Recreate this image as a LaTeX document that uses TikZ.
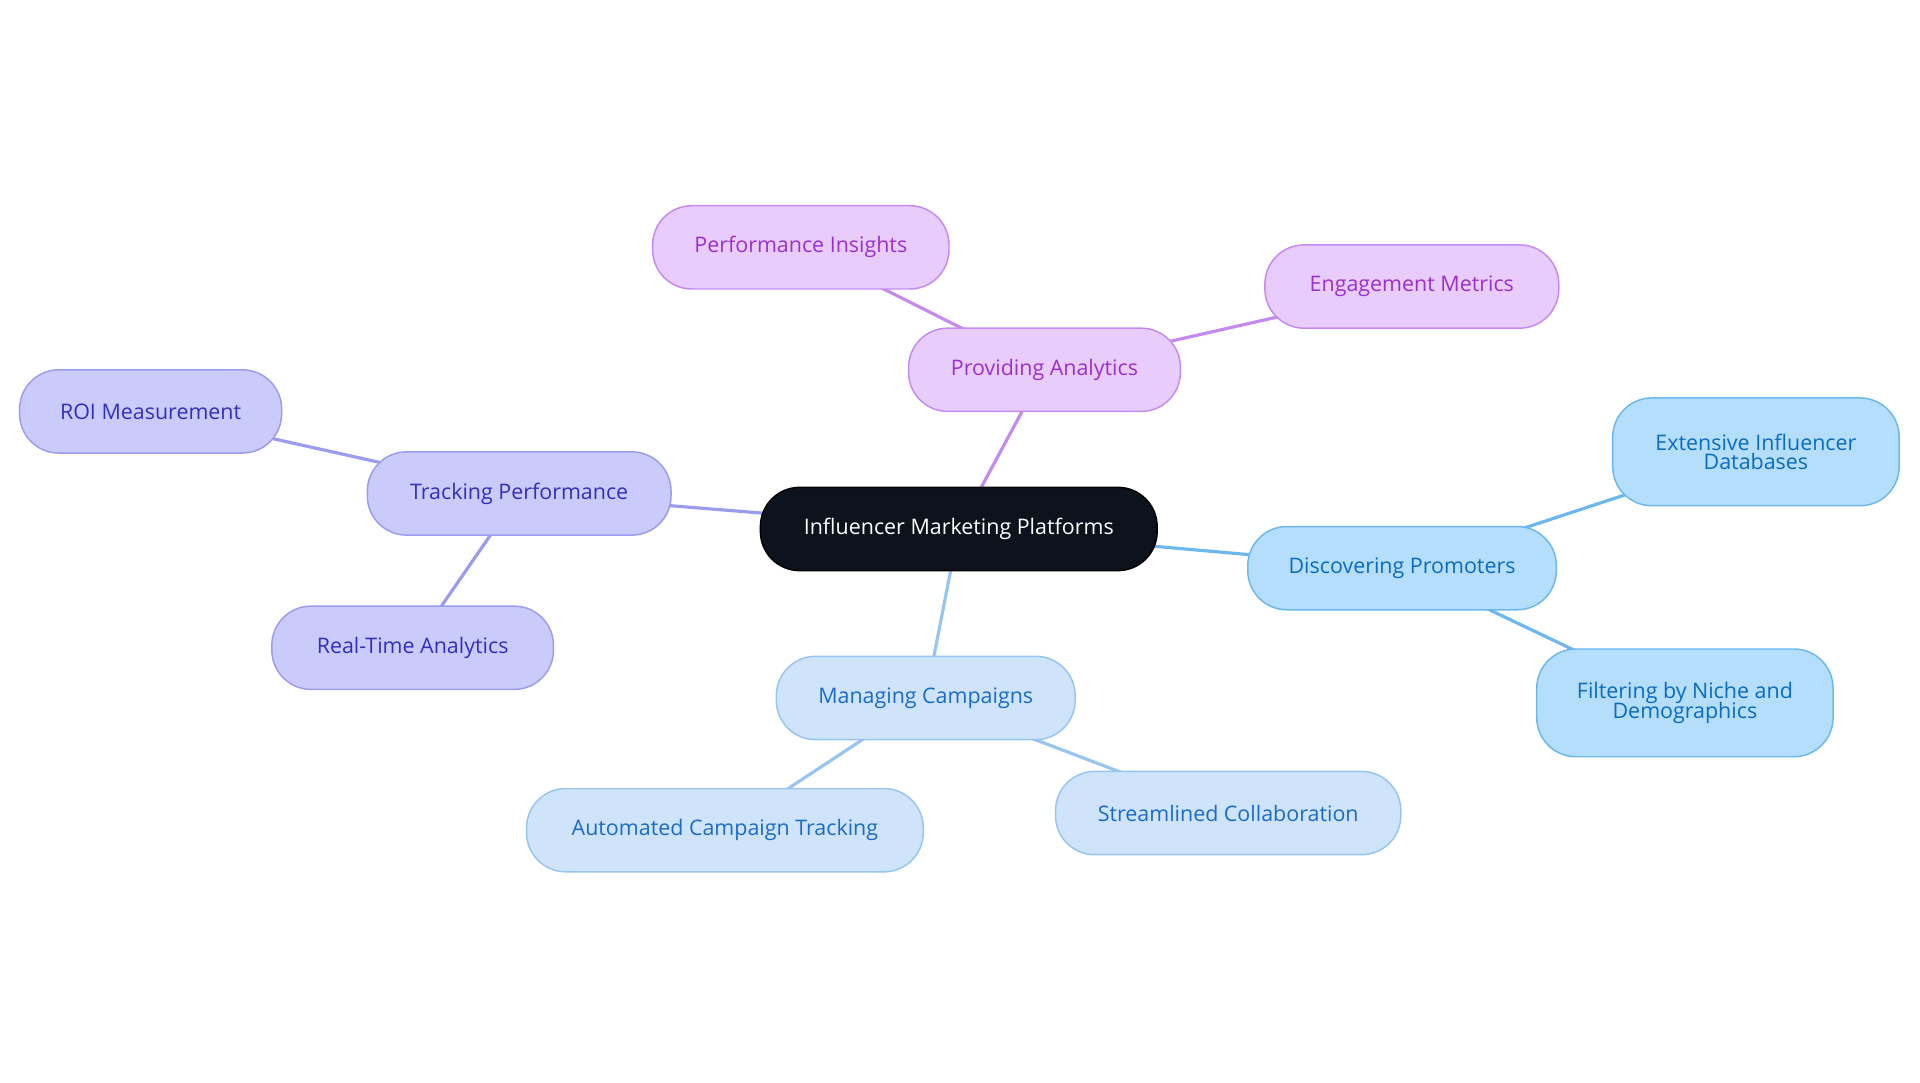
\documentclass[tikz,border=0pt]{standalone}
\usepackage{fontspec}
\setmainfont{Open Sans}
\usetikzlibrary{backgrounds}
\definecolor{pF}{HTML}{E8CCFB}\definecolor{pB}{HTML}{C58AF0}\definecolor{pT}{HTML}{9B30D0}
\definecolor{iF}{HTML}{CBCBFB}\definecolor{iB}{HTML}{9B9BF0}\definecolor{iT}{HTML}{3030C0}
\definecolor{bF}{HTML}{B4DEFC}\definecolor{bB}{HTML}{6CB8EE}\definecolor{bT}{HTML}{0A6CC0}
\definecolor{lF}{HTML}{CFE3FB}\definecolor{lB}{HTML}{98C4F0}\definecolor{lT}{HTML}{1A6CC8}
\definecolor{cF}{HTML}{0D131C}
\begin{document}
\begin{tikzpicture}[x=1pt,y=-1pt,
 box/.style={rounded corners=32pt,minimum height=68pt,align=center,line width=1.2pt,font=\fontsize{17.5}{19}\selectfont,inner sep=0pt},
 pbox/.style={box,fill=pF,draw=pB,text=pT},
 ibox/.style={box,fill=iF,draw=iB,text=iT},
 bbox/.style={box,fill=bF,draw=bB,text=bT},
 lbox/.style={box,fill=lF,draw=lB,text=lT},
 edge/.style={line width=2.6pt}]
\path[use as bounding box] (0,0) rectangle (1568,884);
\node[box,fill=cF,draw=black,text=white,minimum width=324pt] (c) at (783,432) {Influencer Marketing Platforms};
\node[pbox,minimum width=222pt] (pa) at (853,302) {Providing Analytics};
\node[pbox,minimum width=242pt] (pi) at (654,202) {Performance Insights};
\node[pbox,minimum width=240pt] (em) at (1153,234) {Engagement Metrics};
\node[ibox,minimum width=248pt] (tp) at (424,403) {Tracking Performance};
\node[ibox,minimum width=214pt] (roi) at (123,336) {ROI Measurement};
\node[ibox,minimum width=230pt] (rt) at (337,529) {Real-Time Analytics};
\node[bbox,minimum width=252pt] (dp) at (1145,464) {Discovering Promoters};
\node[bbox,minimum width=234pt,minimum height=88pt] (ed) at (1434,369) {Extensive Influencer\\[-3pt]Databases};
\node[bbox,minimum width=242pt,minimum height=88pt] (fn) at (1376,574) {Filtering by Niche and\\[-3pt]Demographics};
\node[lbox,minimum width=244pt] (mc) at (756,570) {Managing Campaigns};
\node[lbox,minimum width=324pt] (ac) at (592,678) {Automated Campaign Tracking};
\node[lbox,minimum width=282pt] (sc) at (1003,664) {Streamlined Collaboration};
\begin{scope}[on background layer]
\draw[edge,pB] (c.center)--(pa.center) (pa.center)--(pi.center) (pa.center)--(em.center);
\draw[edge,iB] (c.center)--(tp.center) (tp.center)--(roi.center) (tp.center)--(rt.center);
\draw[edge,bB] (c.center)--(dp.center) (dp.center)--(ed.center) (dp.center)--(fn.center);
\draw[edge,lB] (c.center)--(mc.center) (mc.center)--(ac.center) (mc.center)--(sc.center);
\end{scope}
\end{tikzpicture}
\end{document}
